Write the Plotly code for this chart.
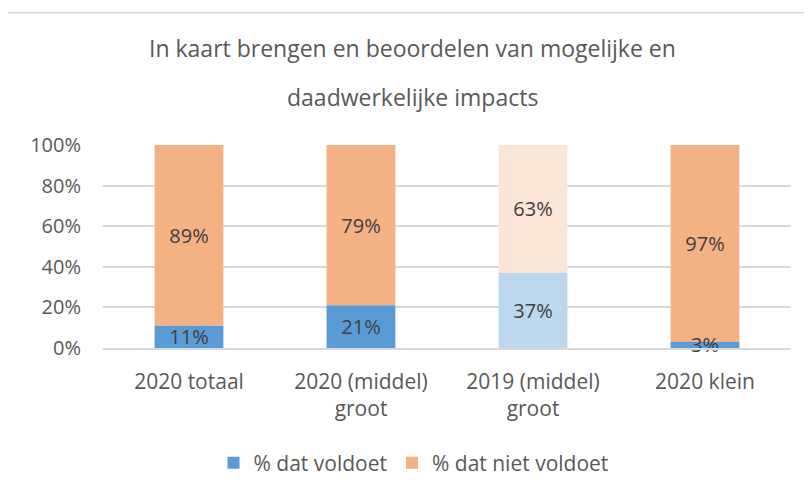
import plotly.graph_objects as go

title_lines = ["In kaart brengen en beoordelen van mogelijke en", "daadwerkelijke impacts"]
categories = ["2020 totaal", "2020 (middel)<br>groot", "2019 (middel)<br>groot", "2020 klein"]
voldoet = [11, 21, 37, 3]
niet_voldoet = [89, 79, 63, 97]
voldoet_colors = ["#5B9BD5", "#5B9BD5", "#BDD7EE", "#5B9BD5"]
niet_colors = ["#F4B183", "#F4B183", "#FBE5D6", "#F4B183"]
y_ticks = [0, 20, 40, 60, 80, 100]
y_tick_labels = ["0%", "20%", "40%", "60%", "80%", "100%"]

FONT = "Open Sans"
TXT = "#595959"
W, H = 804, 486           # page body has an 8px margin
L, R, T, B = 95, 21, 137, 145
PW, PH = W - L - R, H - T - B


def px_to_paper(xp, yp):
    return (xp - L) / PW, (H - B - yp) / PH


fig = go.Figure()
# Upper segment first (stacked on top of the lower one via base), so the lower
# segment's labels are drawn above it.
fig.add_trace(go.Bar(
    x=categories, y=niet_voldoet, base=voldoet, name="% dat niet voldoet",
    marker=dict(color=niet_colors, line=dict(width=0)),
    text=[f"{v}%" for v in niet_voldoet], textposition="inside",
    insidetextanchor="middle", constraintext="none", cliponaxis=False,
    textfont=dict(family=FONT, size=20, color="#404040"),
))
fig.add_trace(go.Bar(
    x=categories, y=voldoet, name="% dat voldoet",
    marker=dict(color=voldoet_colors, line=dict(width=0)),
    text=[f"{v}%" for v in voldoet], textposition="inside",
    insidetextanchor="middle", constraintext="none", cliponaxis=False,
    textfont=dict(family=FONT, size=20, color="#404040"),
))

bx0, by1 = px_to_paper(-2, 4)
t1x, t1y = px_to_paper(404.5, 40)
t2x, t2y = px_to_paper(404.5, 89)
lx, ly = px_to_paper(405.5, 455)

fig.update_layout(
    width=W, height=H,
    barmode="overlay", bargap=0.6,
    margin=dict(l=L, r=R, t=T, b=B),
    paper_bgcolor="white", plot_bgcolor="white",
    font=dict(family=FONT, color=TXT, size=20),
    uniformtext=dict(mode="show", minsize=20),
    xaxis=dict(showgrid=False, showline=True, linecolor="#D9D9D9", linewidth=1.5,
               ticks="", tickfont=dict(size=21, color=TXT), ticklabelstandoff=14),
    yaxis=dict(range=[0, 100], tickvals=y_ticks, ticktext=y_tick_labels,
               showgrid=True, gridcolor="#D9D9D9", gridwidth=1.5, zeroline=False,
               ticks="", tickfont=dict(size=20, color=TXT), ticklabelstandoff=21),
    showlegend=True,
    legend=dict(orientation="h", x=lx, xanchor="center", y=ly, yanchor="middle",
                font=dict(size=21, color=TXT), itemwidth=30, traceorder="reversed"),
    annotations=[
        dict(text=title_lines[0], xref="paper", yref="paper", x=t1x, y=t1y,
             xanchor="center", yanchor="middle", showarrow=False,
             font=dict(family=FONT, size=23, color=TXT)),
        dict(text=title_lines[1], xref="paper", yref="paper", x=t2x, y=t2y,
             xanchor="center", yanchor="middle", showarrow=False,
             font=dict(family=FONT, size=23, color=TXT)),
    ],
    shapes=[dict(type="rect", xref="paper", yref="paper",
                 x0=bx0, x1=2, y0=-3, y1=by1,
                 line=dict(color="#D9D9D9", width=1.5), fillcolor="rgba(0,0,0,0)", layer="below")],
)
fig.write_html("out.html")
